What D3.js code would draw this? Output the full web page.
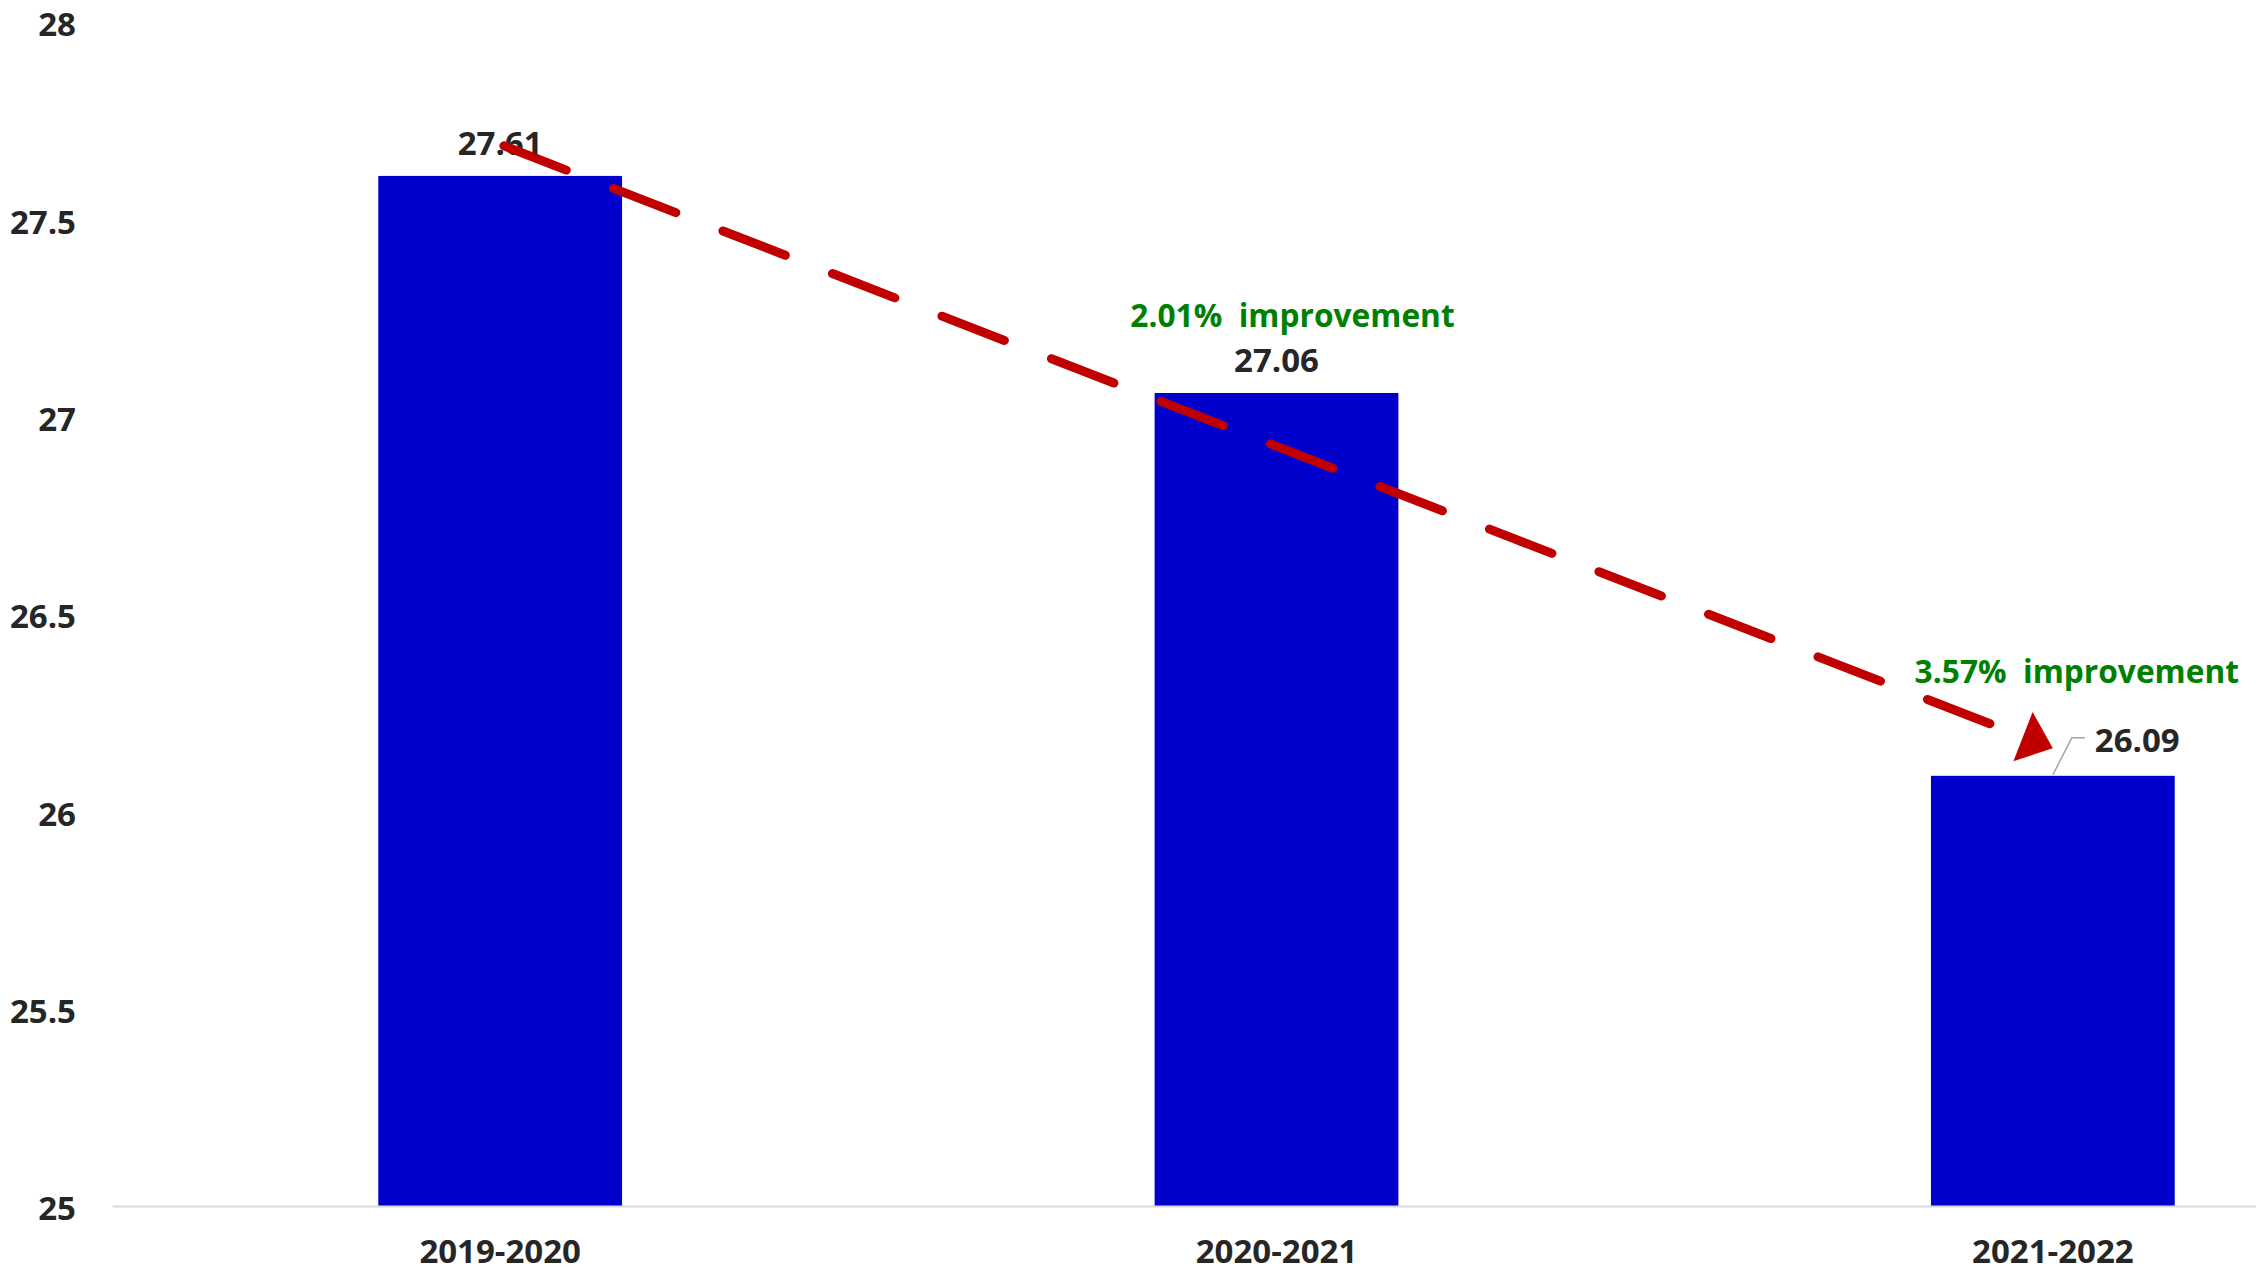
<!DOCTYPE html>
<html>
<head>
<meta charset="utf-8">
<script src="https://cdn.jsdelivr.net/npm/d3@7"></script>
<style>
  html, body { margin: 0; padding: 0; background: #ffffff; }
  svg { display: block; overflow: hidden; }
  text { font-family: "Open Sans", Lato, sans-serif; font-weight: 700; }
</style>
</head>
<body>
<script>
// Yearly values per period
const categories = ["2019-2020", "2020-2021", "2021-2022"];
const values = [27.61, 27.06, 26.09];
const yTicks = [25, 25.5, 26, 26.5, 27, 27.5, 28];
const improvementLabels = ["", "2.01%  improvement", "3.57%  improvement"];
// Trend arrow from the first period down to the last one
const trendFrom = { category: "2019-2020", value: 27.69 };
const trendTo = { category: "2021-2022", value: 26.16 };

const width = 2256, height = 1274;
const textColor = "#262626";
const fontFamily = "'Open Sans', Lato, sans-serif";
const fontSize = "33px";
const noteFontSize = "31.7px";

const svg = d3.select("body").append("svg")
  .attr("width", width)
  .attr("height", height);

const x = d3.scaleBand()
  .domain(categories)
  .range([112, 2441])
  .paddingInner(0.686)
  .paddingOuter(0.343);

const y = d3.scaleLinear()
  .domain([25, 28])
  .range([1206, 22]);

const cx = c => x(c) + x.bandwidth() / 2;

// Bars
svg.append("g").selectAll("rect")
  .data(values)
  .join("rect")
  .attr("x", (d, i) => x(categories[i]))
  .attr("y", d => y(d))
  .attr("width", x.bandwidth())
  .attr("height", d => y(25) - y(d))
  .attr("fill", "#0000CC");

// Category axis with the baseline
const xAxis = svg.append("g")
  .attr("transform", `translate(0,${y(25)})`)
  .call(d3.axisBottom(x).tickSize(0).tickPadding(34));
xAxis.select(".domain").attr("stroke", "#d9d9d9").attr("stroke-width", 2);
xAxis.selectAll("text")
  .attr("fill", textColor)
  .style("font-size", fontSize)
  .style("font-family", fontFamily)
  .style("font-weight", 700);

// Value axis: labels only
const yAxis = svg.append("g")
  .attr("transform", "translate(112,0)")
  .call(d3.axisLeft(y).tickValues(yTicks).tickFormat(d3.format("~g")).tickSize(0).tickPadding(36));
yAxis.select(".domain").remove();
yAxis.selectAll("text")
  .attr("dy", "0.42em")
  .attr("fill", textColor)
  .style("font-size", fontSize)
  .style("font-family", fontFamily)
  .style("font-weight", 700);

// Value labels (the last one sits to the right with a leader line)
const labels = svg.append("g");
values.forEach((v, i) => {
  const c = categories[i];
  if (i < values.length - 1) {
    labels.append("text")
      .attr("x", cx(c))
      .attr("y", y(v) - 21)
      .attr("text-anchor", "middle")
      .attr("fill", textColor)
      .style("font-size", fontSize)
      .text(d3.format(".2f")(v));
  } else {
    const bx = cx(c), by = y(v);
    labels.append("path")
      .attr("d", `M${bx},${by - 1}L${bx + 19},${by - 38}L${bx + 32},${by - 38}`)
      .attr("fill", "none")
      .attr("stroke", "#a6a6a6")
      .attr("stroke-width", 1.5);
    labels.append("text")
      .attr("x", bx + 42)
      .attr("y", by - 24)
      .attr("text-anchor", "start")
      .attr("fill", textColor)
      .style("font-size", fontSize)
      .text(d3.format(".2f")(v));
  }
});

// Improvement notes
const noteOffsets = [null, { dx: 16, dy: -66 }, { dx: 24, dy: -93 }];
improvementLabels.forEach((t, i) => {
  if (!t) return;
  const c = categories[i];
  svg.append("text")
    .attr("x", cx(c) + noteOffsets[i].dx)
    .attr("y", y(values[i]) + noteOffsets[i].dy)
    .attr("text-anchor", "middle")
    .attr("fill", "#008000")
    .attr("xml:space", "preserve")
    .style("white-space", "pre")
    .style("font-size", noteFontSize)
    .text(t);
});

// Dashed trend arrow
const x0 = cx(trendFrom.category), y0 = y(trendFrom.value);
const x1 = cx(trendTo.category), y1 = y(trendTo.value);
const len = Math.hypot(x1 - x0, y1 - y0);
const ux = (x1 - x0) / len, uy = (y1 - y0) / len;
const headLen = 32, headHalf = 26.5;
const bxC = x1 - ux * headLen, byC = y1 - uy * headLen;
const shaftEnd = len - 42;

svg.append("line")
  .attr("x1", x0 + ux * 4).attr("y1", y0 + uy * 4)
  .attr("x2", x0 + ux * shaftEnd).attr("y2", y0 + uy * shaftEnd)
  .attr("stroke", "#C00000")
  .attr("stroke-width", 9)
  .attr("stroke-linecap", "round")
  .attr("stroke-dasharray", "67 50.5");

svg.append("path")
  .attr("d", `M${x1},${y1}L${bxC - uy * headHalf},${byC + ux * headHalf}L${bxC + uy * headHalf},${byC - ux * headHalf}Z`)
  .attr("fill", "#C00000");
</script>
</body>
</html>
